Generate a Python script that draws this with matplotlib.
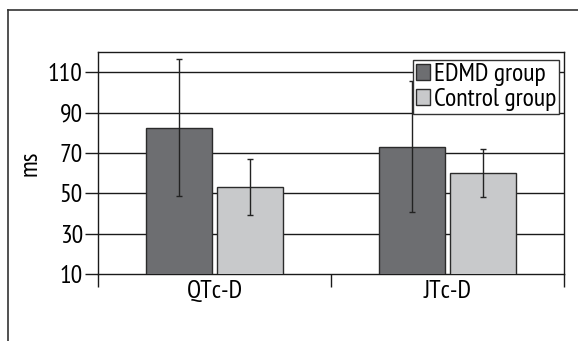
"""
QTc-D and JTc-D dispersion, EDMD group vs control group
"""

import matplotlib.pyplot as plt
from matplotlib.lines import Line2D

categories = ['QTc-D', 'JTc-D']
edmd_mean = [82.5, 73]
edmd_sd = [34, 32.5]
control_mean = [53, 60]
control_sd = [14, 12]
y_ticks = [10, 30, 50, 70, 90, 110]

plt.rcParams['font.family'] = ['PT Sans Narrow', 'DejaVu Sans']
FS = 18.5

W, H = 578, 341
fig = plt.figure(figsize=(W / 100, H / 100), dpi=100)

# outer frame (only top and left edges are in view)
fig.add_artist(Line2D([8 / W, 1.0], [1 - 10 / H, 1 - 10 / H], color='#333333', lw=1.2))
fig.add_artist(Line2D([8 / W, 8 / W], [0.0, 1 - 10 / H], color='#333333', lw=1.2))

ax = fig.add_axes([98 / W, (H - 274) / H, (564 - 98) / W, (274 - 52) / H])

x = list(range(len(categories)))
off = 0.152
bw = 0.283
edge = '#2b2b2b'

ax.bar([i - off for i in x], edmd_mean, width=bw, bottom=0, color='#6d6e71',
       edgecolor=edge, linewidth=1, label='EDMD group', zorder=3)
ax.bar([i + off for i in x], control_mean, width=bw, bottom=0, color='#c8c9cb',
       edgecolor=edge, linewidth=1, label='Control group', zorder=3)
ax.errorbar([i - off for i in x], edmd_mean, yerr=edmd_sd, fmt='none',
            ecolor='#222222', elinewidth=1, capsize=2.5, capthick=1, zorder=4)
ax.errorbar([i + off for i in x], control_mean, yerr=control_sd, fmt='none',
            ecolor='#222222', elinewidth=1, capsize=2.5, capthick=1, zorder=4)

ax.set_xlim(-0.5, 1.5)
ax.set_ylim(10, 120)

for v in y_ticks[1:]:
    ax.axhline(v, color='#1a1a1a', lw=1, zorder=1)

ax.set_yticks(y_ticks)
ax.tick_params(axis='y', direction='out', length=9.4, width=1, color='#1a1a1a',
               pad=1.5, labelsize=FS)

ax.set_xticks([-0.5, 0.5, 1.5])
ax.set_xticklabels([])
ax.set_xticks(x, minor=True)
ax.set_xticklabels(categories, minor=True)
ax.tick_params(axis='x', which='major', direction='out', length=9.4, width=1,
               color='#1a1a1a')
ax.tick_params(axis='x', which='minor', length=0, pad=4.5, labelsize=FS)

for s in ax.spines.values():
    s.set_color('#1a1a1a')
    s.set_linewidth(1)

ax.set_ylabel('ms', fontsize=FS, labelpad=5)

leg = ax.legend(loc='upper right', bbox_to_anchor=(0.99, 0.965), fontsize=FS,
                frameon=True, fancybox=False, edgecolor='#333333', framealpha=1,
                handlelength=0.55, handleheight=0.55, handletextpad=0.15,
                borderpad=0.12, labelspacing=0.08, borderaxespad=0)
leg.get_frame().set_linewidth(1)

plt.savefig('out.png', dpi=100)
